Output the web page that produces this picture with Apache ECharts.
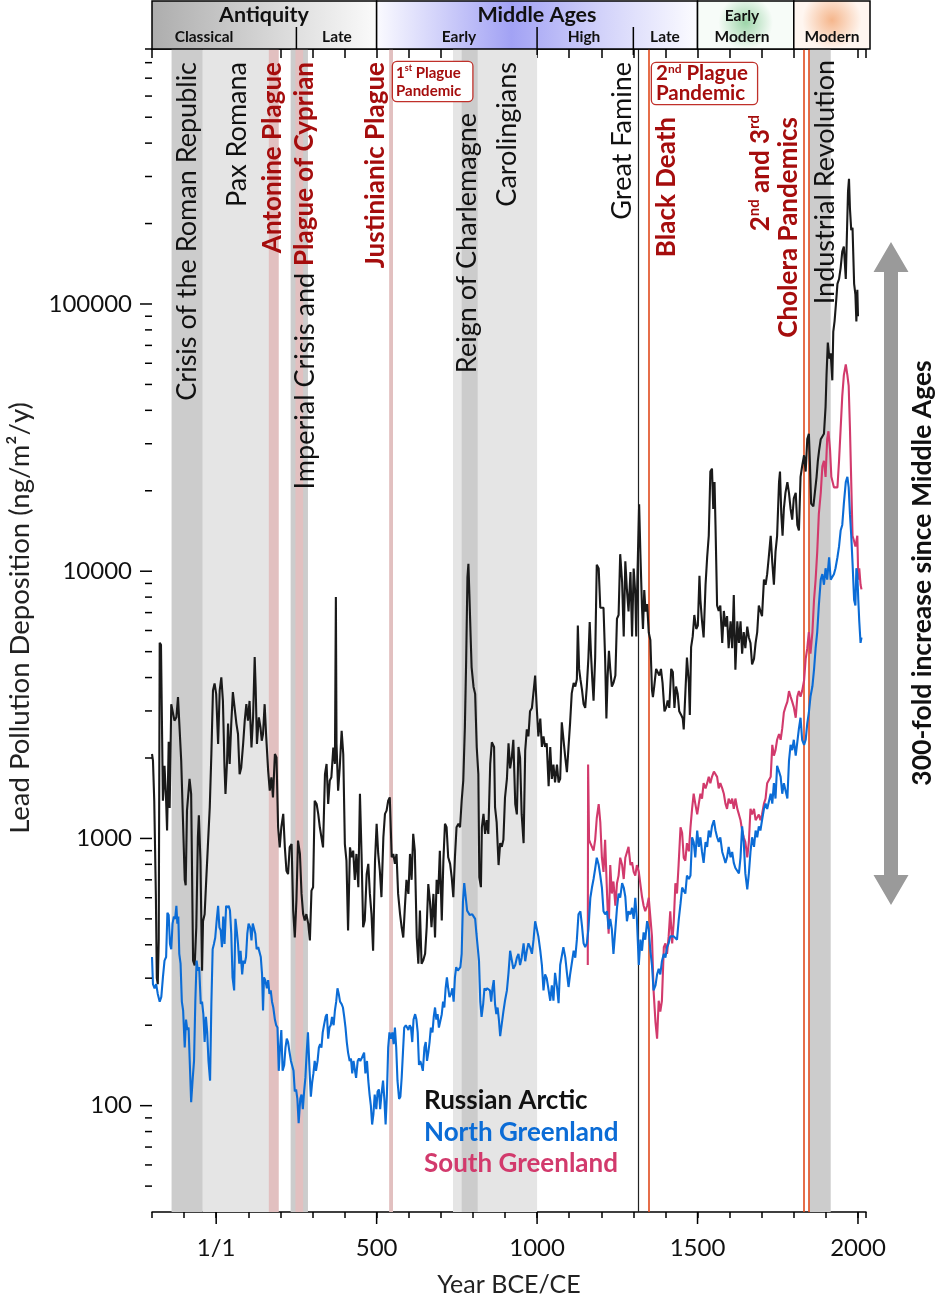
<!DOCTYPE html>
<html><head><meta charset="utf-8">
<script src="https://cdn.jsdelivr.net/npm/echarts@6/dist/echarts.min.js"></script>
<style>html,body{margin:0;padding:0;background:#fff}#c{width:938px;height:1303px}</style>
</head><body><div id="c"></div>
<script>
// ---------------- DATA ----------------
const russianArctic = [[-200,2070],[-197,1956],[-193,1384],[-188,620],[-185,300],[-182,285],[-179,420],[-176,5400],[-172,5300],[-166,1384],[-161,1870],[-156,1384],[-153,1070],[-148,2300],[-145,1300],[-140,3180],[-135,3230],[-130,2760],[-124,2840],[-119,3380],[-114,3430],[-109,1956],[-104,1930],[-98,700],[-95,668],[-91,1271],[-83,1670],[-78,1468],[-72,349],[-67,335],[-62,465],[-57,1010],[-54,1220],[-49,826],[-44,320],[-41,490],[-36,520],[-31,700],[-26,930],[-20,1310],[-15,2070],[-10,3580],[-5,3800],[0,3475],[6,2258],[11,3580],[16,4010],[21,3270],[26,1840],[29,1468],[34,1956],[37,2690],[42,1900],[47,2690],[52,3530],[58,3475],[63,2690],[68,2460],[73,1740],[78,1840],[84,2258],[89,2760],[94,3180],[99,2760],[104,3270],[110,2190],[115,2840],[120,4770],[123,3690],[127,2258],[133,2840],[138,2608],[142,2320],[146,2460],[151,3180],[156,2390],[162,1790],[167,1510],[172,1694],[177,1425],[183,2070],[188,2010],[193,1101],[198,926],[203,1101],[209,1236],[214,926],[219,757],[224,735],[229,926],[235,953],[240,537],[245,426],[250,585],[255,982],[261,875],[266,620],[271,521],[276,493],[281,521],[287,479],[292,415],[297,638],[302,657],[307,1384],[313,1345],[318,1236],[323,1101],[328,1101],[333,926],[339,1740],[344,1900],[349,1345],[354,1645],[359,1694],[365,2190],[370,1900],[373,8000],[375,2258],[380,1510],[385,1840],[391,2530],[396,2070],[401,953],[406,826],[411,452],[417,926],[422,850],[427,900],[432,700],[437,875],[443,657],[448,1468],[453,875],[458,465],[463,493],[469,735],[474,803],[479,620],[484,521],[489,380],[495,826],[500,1135],[505,875],[510,757],[515,603],[521,1010],[526,1236],[531,1271],[536,1384],[541,1425],[547,850],[552,875],[557,803],[562,875],[567,620],[573,521],[578,465],[583,426],[588,552],[593,700],[599,620],[604,875],[609,700],[614,1040],[619,900],[625,426],[630,340],[635,537],[640,340],[645,349],[651,370],[656,465],[661,675],[666,585],[671,465],[677,620],[682,426],[687,700],[692,620],[697,900],[703,493],[708,826],[713,1135],[718,1101],[723,850],[729,803],[734,715],[739,603],[744,850],[749,1101],[755,1135],[760,1101],[765,1384],[770,1645],[775,2608],[779,4630],[783,9490],[786,10650],[789,8225],[793,5660],[796,4370],[802,3690],[807,3475],[812,2190],[817,1740],[820,715],[825,657],[828,1101],[833,1236],[838,1040],[843,1170],[848,1040],[854,1900],[859,2290],[866,2200],[869,1310],[874,1152],[880,795],[885,960],[890,930],[895,988],[900,1420],[906,1670],[911,2270],[916,1828],[921,2000],[926,2340],[932,1344],[937,1230],[942,2200],[947,2000],[952,1230],[958,960],[963,2132],[968,2560],[973,2410],[978,2990],[984,3080],[989,3080],[994,4070],[999,3080],[1004,2410],[1010,2810],[1015,2200],[1020,2410],[1025,2200],[1030,2270],[1036,1567],[1041,2200],[1046,1670],[1051,1890],[1056,1620],[1062,1890],[1067,1620],[1072,1670],[1077,2720],[1082,2720],[1088,2000],[1093,1770],[1098,2200],[1103,2720],[1108,3490],[1114,3820],[1119,3700],[1124,3945],[1127,6260],[1131,4310],[1135,3945],[1140,3600],[1145,3180],[1150,3080],[1155,3700],[1160,4750],[1164,6460],[1168,4900],[1172,3945],[1176,3280],[1181,4750],[1186,10570],[1192,10240],[1197,7300],[1202,7300],[1207,7300],[1212,4750],[1216,2810],[1220,4070],[1224,5040],[1228,4310],[1233,3700],[1238,3820],[1244,4070],[1249,6650],[1254,6860],[1259,11580],[1265,9100],[1270,5700],[1275,10900],[1280,8510],[1285,7070],[1291,9930],[1296,5700],[1301,10240],[1306,8250],[1309,5700],[1313,9930],[1318,17800],[1322,11580],[1327,7300],[1330,6080],[1334,8510],[1338,7070],[1343,7530],[1348,5900],[1353,5530],[1358,3600],[1361,3380],[1365,3700],[1371,4310],[1376,4310],[1381,4070],[1386,4310],[1391,3820],[1397,2990],[1402,3080],[1407,3280],[1412,3080],[1418,4310],[1423,4200],[1428,3080],[1433,3700],[1438,3490],[1443,2990],[1449,2900],[1454,2810],[1457,2560],[1462,3490],[1467,4750],[1473,3820],[1476,2900],[1480,5200],[1485,5700],[1490,6860],[1496,6080],[1501,6260],[1506,9620],[1509,7800],[1514,6500],[1519,5650],[1525,8900],[1530,11280],[1535,13570],[1540,23600],[1545,24200],[1549,17100],[1553,21550],[1556,14900],[1561,7440],[1566,7100],[1571,7440],[1577,5390],[1582,7100],[1587,6200],[1592,6790],[1597,5150],[1603,6500],[1608,5150],[1613,8150],[1618,4280],[1624,6500],[1629,5390],[1634,6500],[1639,4910],[1644,5920],[1649,5150],[1655,6200],[1660,5650],[1665,5390],[1670,4480],[1676,4700],[1681,5390],[1686,5920],[1691,7440],[1696,7100],[1701,6790],[1707,9300],[1712,8900],[1717,9750],[1722,11280],[1728,13570],[1733,10770],[1738,8900],[1743,11810],[1748,13570],[1754,21550],[1757,23600],[1761,16350],[1765,13570],[1769,17100],[1774,19650],[1780,21550],[1785,19650],[1790,17100],[1795,15600],[1800,18750],[1806,19650],[1811,14900],[1816,14200],[1821,22550],[1826,24700],[1832,27150],[1837,23600],[1842,31200],[1847,32700],[1850,25900],[1854,17900],[1861,17500],[1867,17500],[1871,22550],[1875,25900],[1879,28400],[1884,31200],[1889,31200],[1894,32700],[1899,41200],[1902,54200],[1906,71700],[1911,62400],[1915,65400],[1920,51800],[1923,78600],[1927,86100],[1931,98900],[1936,119000],[1941,124000],[1946,136600],[1951,157000],[1956,164000],[1962,124000],[1965,172100],[1969,264000],[1972,294000],[1975,227000],[1979,189000],[1983,193000],[1988,119000],[1992,108400],[1995,86100],[1998,113000],[2000,90000]];

const northGreenland = [[-200,360],[-197,285],[-192,275],[-187,285],[-182,262],[-176,245],[-171,255],[-166,302],[-161,349],[-156,360],[-152,527],[-148,517],[-144,403],[-140,385],[-136,480],[-132,510],[-128,500],[-124,560],[-121,480],[-118,510],[-115,370],[-111,340],[-107,245],[-103,227],[-98,165],[-94,210],[-90,192],[-86,196],[-82,142],[-78,103],[-73,127],[-69,147],[-65,245],[-61,349],[-57,320],[-53,330],[-48,240],[-44,245],[-40,220],[-36,173],[-32,215],[-28,188],[-24,147],[-19,124],[-15,240],[-11,385],[-7,403],[-3,425],[2,500],[6,560],[10,465],[14,453],[18,392],[22,510],[26,403],[31,560],[35,550],[39,560],[43,537],[47,440],[51,302],[56,270],[60,500],[64,453],[68,403],[72,340],[76,380],[81,310],[85,349],[89,340],[93,360],[97,440],[101,480],[106,465],[110,415],[114,480],[118,480],[122,440],[126,385],[131,392],[135,392],[139,360],[143,310],[146,227],[149,302],[153,295],[158,275],[162,295],[166,262],[170,270],[174,245],[178,233],[183,210],[187,200],[191,196],[195,135],[199,165],[203,192],[207,135],[212,142],[216,165],[220,178],[224,173],[228,160],[233,147],[237,147],[241,135],[245,113],[249,115],[253,106],[257,86],[262,106],[266,110],[270,97],[274,113],[278,127],[282,158],[286,188],[291,135],[295,108],[299,122],[303,132],[307,147],[311,135],[316,147],[320,165],[324,170],[328,165],[332,188],[336,200],[341,215],[345,220],[349,178],[353,196],[357,200],[361,215],[366,200],[370,227],[374,245],[378,275],[382,262],[386,245],[391,240],[395,233],[399,215],[403,196],[407,173],[411,158],[416,147],[420,150],[424,132],[428,147],[432,145],[436,127],[441,147],[445,150],[449,147],[453,150],[457,150],[461,158],[465,132],[470,147],[474,124],[478,110],[482,100],[486,85],[490,93],[494,110],[499,97],[503,113],[507,115],[511,97],[515,110],[520,124],[524,106],[528,85],[532,110],[536,165],[540,188],[545,178],[549,188],[553,170],[557,196],[561,165],[565,124],[570,106],[574,108],[578,127],[582,158],[586,196],[591,200],[595,196],[599,192],[603,200],[607,196],[611,173],[615,210],[620,220],[624,210],[628,188],[632,142],[636,147],[640,142],[644,135],[649,165],[653,173],[657,147],[661,158],[665,173],[669,196],[674,188],[678,215],[682,233],[686,210],[690,220],[694,196],[699,196],[703,220],[707,245],[711,233],[715,275],[719,302],[723,275],[727,255],[732,262],[736,275],[740,245],[744,302],[748,330],[753,320],[757,320],[761,330],[765,370],[769,580],[773,680],[778,680],[782,537],[786,527],[790,517],[794,517],[798,520],[802,517],[807,500],[811,440],[815,392],[819,349],[823,245],[827,215],[832,240],[836,275],[840,270],[844,275],[848,275],[853,270],[857,245],[861,275],[865,295],[869,240],[873,220],[877,233],[881,210],[885,182],[890,182],[895,225],[900,247],[906,270],[911,314],[916,380],[921,380],[926,325],[932,336],[937,358],[942,370],[947,336],[952,358],[958,405],[963,347],[968,380],[973,405],[978,392],[984,370],[989,418],[994,490],[999,490],[1004,430],[1010,380],[1015,336],[1020,270],[1025,310],[1030,300],[1036,270],[1041,247],[1046,282],[1051,247],[1056,314],[1062,278],[1067,242],[1072,336],[1077,336],[1082,392],[1088,358],[1093,314],[1098,278],[1103,310],[1108,314],[1114,380],[1119,358],[1124,418],[1129,520],[1135,534],[1140,470],[1145,405],[1150,392],[1155,405],[1160,458],[1166,600],[1171,655],[1176,705],[1181,770],[1186,847],[1192,795],[1197,726],[1202,655],[1207,534],[1212,520],[1218,534],[1223,458],[1228,500],[1233,458],[1238,370],[1244,458],[1249,550],[1254,622],[1259,600],[1265,680],[1270,655],[1275,605],[1280,490],[1285,534],[1291,520],[1296,550],[1301,500],[1306,600],[1311,500],[1317,336],[1322,418],[1327,380],[1332,445],[1337,418],[1343,490],[1348,458],[1353,380],[1358,336],[1363,270],[1369,282],[1374,310],[1379,325],[1384,310],[1389,347],[1395,370],[1400,358],[1405,392],[1410,405],[1415,430],[1421,430],[1426,430],[1431,430],[1436,418],[1441,490],[1447,570],[1452,655],[1457,655],[1462,622],[1467,726],[1473,705],[1478,726],[1483,1010],[1488,970],[1493,850],[1499,1071],[1504,930],[1509,1010],[1514,890],[1519,810],[1525,970],[1530,930],[1535,1071],[1540,1010],[1545,1110],[1551,1170],[1556,1071],[1561,1010],[1566,970],[1571,1010],[1577,890],[1582,850],[1587,810],[1592,850],[1597,930],[1603,850],[1608,890],[1613,810],[1618,775],[1624,775],[1629,740],[1634,850],[1639,1110],[1644,970],[1649,740],[1655,645],[1660,740],[1665,890],[1670,1010],[1676,930],[1681,1071],[1686,1010],[1691,1110],[1696,1071],[1701,1170],[1707,1290],[1712,1350],[1717,1290],[1722,1290],[1728,1470],[1733,1350],[1738,1610],[1743,1410],[1748,1870],[1754,1780],[1759,1700],[1764,1470],[1769,1610],[1774,1610],[1780,1410],[1785,1950],[1790,2240],[1795,2140],[1800,2340],[1806,2040],[1811,2040],[1816,2580],[1821,2830],[1826,2340],[1832,2240],[1837,2340],[1842,2695],[1847,2960],[1852,3395],[1858,3710],[1863,4280],[1868,5150],[1873,5920],[1878,7440],[1884,9300],[1889,9750],[1894,8900],[1899,10260],[1904,9300],[1910,11280],[1915,9300],[1920,9300],[1925,9750],[1930,10260],[1936,11280],[1941,12380],[1946,14200],[1951,14900],[1956,17900],[1962,21550],[1967,22550],[1971,20600],[1975,16350],[1979,13570],[1983,10770],[1988,7800],[1992,7440],[1995,10260],[1998,9750],[2001,7800],[2004,6500],[2008,5390],[2011,5650]];

const southGreenland = [[1158,336],[1159,1890],[1162,988],[1166,960],[1171,960],[1176,900],[1181,988],[1186,1190],[1192,1344],[1197,1152],[1202,847],[1207,750],[1212,988],[1218,622],[1223,440],[1228,795],[1233,622],[1238,690],[1244,560],[1249,680],[1254,726],[1259,847],[1265,795],[1270,705],[1275,847],[1280,847],[1285,930],[1291,795],[1296,815],[1301,750],[1306,726],[1311,795],[1317,750],[1322,750],[1327,605],[1332,560],[1337,534],[1343,560],[1348,600],[1353,600],[1358,430],[1363,270],[1369,205],[1374,178],[1379,247],[1384,225],[1389,247],[1395,392],[1400,405],[1405,370],[1410,430],[1415,534],[1421,405],[1426,490],[1431,680],[1436,622],[1441,795],[1447,1100],[1452,1050],[1457,847],[1462,825],[1467,960],[1473,895],[1478,1100],[1483,1290],[1488,1470],[1493,1350],[1499,1230],[1504,1350],[1509,1470],[1514,1410],[1519,1610],[1525,1540],[1530,1610],[1535,1700],[1540,1610],[1545,1700],[1551,1780],[1556,1780],[1561,1700],[1566,1540],[1571,1610],[1577,1540],[1582,1470],[1587,1350],[1592,1290],[1597,1410],[1603,1350],[1608,1410],[1613,1290],[1618,1410],[1624,1290],[1629,1230],[1634,1170],[1639,1071],[1644,1010],[1649,970],[1655,850],[1660,970],[1665,1290],[1670,1230],[1676,1290],[1681,1170],[1686,1170],[1691,1230],[1696,1170],[1701,1230],[1707,1350],[1712,1410],[1717,1610],[1722,1610],[1728,1700],[1733,2240],[1738,2040],[1743,2140],[1748,2340],[1754,2460],[1759,2340],[1764,2580],[1769,2960],[1774,3100],[1780,3250],[1785,3560],[1790,3395],[1795,3250],[1800,3100],[1806,2830],[1811,3395],[1816,3560],[1821,3395],[1826,3560],[1832,3900],[1837,4700],[1842,5150],[1847,5920],[1852,4910],[1858,5920],[1863,7800],[1868,9300],[1873,11810],[1878,16350],[1884,19650],[1889,24700],[1894,25900],[1899,22550],[1904,31200],[1908,33400],[1913,28400],[1917,22550],[1921,21550],[1925,20600],[1930,20600],[1936,20600],[1941,25900],[1946,34200],[1951,45200],[1956,54200],[1962,59400],[1967,54200],[1971,49400],[1975,34200],[1979,21550],[1983,13570],[1988,12950],[1992,12380],[1995,12950],[1998,13570],[2001,9300],[2004,10260],[2008,8900],[2011,8550]];

const xLabelValues = [0, 500, 1000, 1500, 2000];
const yLabelValues = [100, 1000, 10000, 100000];
const yMinorTicks = [50,60,70,80,90,200,300,400,500,600,700,800,900,2000,3000,4000,5000,6000,7000,8000,9000,20000,30000,40000,50000,60000,70000,80000,90000,200000,300000,400000,500000,600000,700000,800000,900000];
const lightBands = [[-42, 180], [738, 1000]];
const darkBands = [[-139, -42], [232, 286], [765, 815], [1849, 1915]];
const plagueBands = [[164, 195], [247, 271], [539, 551]];
const famineLines = [1315];
const plagueLines = [1347, 1830, 1846];
const mainPeriods = [['Antiquity', -200, 500], ['Middle Ages', 500, 1500], ['Early Modern', 1500, 1800], ['Modern', 1800, 2025]];
const subPeriodBreaks = [250, 1000, 1300];

// ---------------- CHART ----------------
const FONT = 'Lato, "Noto Sans", sans-serif';
const RED = '#a50d0d';
const chart = echarts.init(document.getElementById('c'), null, {renderer: 'canvas'});
const AX = {color: '#000', width: 1.5};
const XMIN = -200, XMAX = 2025, YMIN = 40, YMAX = 900000;
const bandSeries = (bands, color, z) => ({
  type: 'line', data: [], z: z, silent: true,
  markArea: {silent: true, itemStyle: {color: color}, label: {show: false},
    data: bands.map(b => [{xAxis: b[0]}, {xAxis: b[1]}])}
});
const lineMarks = (years, color, width, z) => ({
  type: 'line', data: [], z: z, silent: true,
  markLine: {silent: true, symbol: 'none', label: {show: false}, animation: false,
    lineStyle: {color: color, width: width, type: 'solid'},
    data: years.map(y => ({xAxis: y}))}
});
// tick marks drawn through the axis scales
const tickSeries = (points, dx, dy) => ({
  type: 'custom', data: points, clip: false, silent: true, z: 20,
  renderItem: (params, api) => {
    const p = api.coord([api.value(0), api.value(1)]);
    return {type: 'line', shape: {x1: p[0], y1: p[1], x2: p[0] + dx, y2: p[1] + dy},
      style: {stroke: '#000', lineWidth: 1.5}};
  }
});

chart.setOption({
  animation: false,
  grid: {left: 152, right: 72, top: 49, bottom: 91},
  xAxis: [
    {type: 'value', position: 'bottom', min: XMIN, max: XMAX, interval: 100,
      axisLine: {lineStyle: AX}, axisTick: {length: 6, lineStyle: AX},
      axisLabel: {customValues: xLabelValues, formatter: v => (v === 0 ? '1/1' : String(v)),
        fontSize: 24, color: '#111', fontFamily: FONT, margin: 24},
      splitLine: {show: false},
      name: 'Year BCE/CE', nameLocation: 'middle', nameGap: 60,
      nameTextStyle: {fontSize: 25, color: '#222', fontFamily: FONT}},
    {type: 'value', position: 'top', min: XMIN, max: XMAX, interval: 100,
      axisLine: {lineStyle: AX}, axisTick: {inside: true, length: 9, lineStyle: AX},
      axisLabel: {show: false}, splitLine: {show: false}}
  ],
  yAxis: [
    {type: 'log', logBase: 10, position: 'left', min: YMIN, max: YMAX,
      axisLine: {show: true, lineStyle: AX}, axisTick: {show: false},
      axisLabel: {customValues: yLabelValues, formatter: v => String(v),
        fontSize: 24, color: '#111', fontFamily: FONT, margin: 20},
      splitLine: {show: false}}
  ],
  series: [
    bandSeries(lightBands, '#e5e5e5', 1),
    bandSeries(darkBands, '#cccccc', 2),
    bandSeries(plagueBands, '#e2c0c0', 3),
    lineMarks(famineLines, '#222222', 1.2, 4),
    lineMarks(plagueLines, '#e04a1c', 1.6, 4),
    {type: 'line', name: 'Russian Arctic', data: russianArctic, symbol: 'none', z: 10,
      lineStyle: {color: '#1a1a1a', width: 2.1}},
    {type: 'line', name: 'North Greenland', data: northGreenland, symbol: 'none', z: 11,
      lineStyle: {color: '#0b6cd6', width: 2.1}},
    {type: 'line', name: 'South Greenland', data: southGreenland, symbol: 'none', z: 10,
      lineStyle: {color: '#d23a6c', width: 2.1}},
    tickSeries(yMinorTicks.map(v => [XMIN, v]), -7, 0),
    tickSeries(yLabelValues.map(v => [XMIN, v]), -12, 0),
    tickSeries(xLabelValues.map(v => [v, YMIN]), 0, 12)
  ]
});

// ---------------- ANNOTATIONS ----------------
const px = yr => chart.convertToPixel({xAxisIndex: 0}, yr);
const g = [];
const STRIP_TOP = 1, STRIP_MID = 27, STRIP_BOT = 49;
const fills = [
  {type: 'linear', x: 0, y: 0, x2: 1, y2: 0, colorStops: [{offset: 0, color: '#adadad'}, {offset: 1, color: '#fbfbfb'}]},
  {type: 'linear', x: 0, y: 0, x2: 1, y2: 0, colorStops: [{offset: 0, color: '#fbfbff'}, {offset: 0.42, color: '#a2a2f4'}, {offset: 0.7, color: '#d2d2fa'}, {offset: 1, color: '#fcfcff'}]},
  {type: 'radial', x: 0.5, y: 0.45, r: 0.55, colorStops: [{offset: 0, color: '#9dd5a9'}, {offset: 1, color: '#f7fcf8'}]},
  {type: 'radial', x: 0.5, y: 0.4, r: 0.6, colorStops: [{offset: 0, color: '#f5b68c'}, {offset: 1, color: '#fff6f0'}]}
];
mainPeriods.forEach((p, i) => {
  const x1 = px(p[1]);
  const x2 = px(p[2]) + (i === mainPeriods.length - 1 ? 4 : 0);
  g.push({type: 'rect', shape: {x: x1, y: STRIP_TOP, width: x2 - x1, height: STRIP_BOT - STRIP_TOP},
    style: {fill: fills[i], stroke: '#000', lineWidth: 1.5}, z: 5});
});
subPeriodBreaks.forEach(yr => {
  g.push({type: 'line', shape: {x1: px(yr), y1: STRIP_MID, x2: px(yr), y2: STRIP_BOT + (yr === 250 ? 0 : 6)},
    style: {stroke: '#000', lineWidth: 1.5}, z: 6});
});
const stripText = (x, y, text, size) => ({type: 'text', x: x, y: y, z: 7,
  style: {text: text, align: 'center', verticalAlign: 'middle', fontSize: size, fontWeight: 'bold', fill: '#111', fontFamily: FONT}});
g.push(stripText(264, 15, 'Antiquity', 21.5));
g.push(stripText(537, 15, 'Middle Ages', 21.5));
g.push(stripText(742, 16, 'Early', 15.5));
g.push(stripText(742, 37, 'Modern', 15.5));
g.push(stripText(832, 37, 'Modern', 15.5));
g.push(stripText(204, 37, 'Classical', 15.5));
g.push(stripText(337, 37, 'Late', 15.5));
g.push(stripText(459, 37, 'Early', 15.5));
g.push(stripText(584, 37, 'High', 15.5));
g.push(stripText(665, 37, 'Late', 15.5));

// vertical event labels (reading bottom-to-top, top end anchored)
const VB = 27, VR = 26;
const vlabel = (x, yTop, text, color, weight, size, rich) => ({type: 'text', x: x, y: yTop, rotation: Math.PI / 2, z: 8,
  style: {text: text, align: 'right', verticalAlign: 'middle', fontSize: size, fontWeight: weight, fill: color, fontFamily: FONT, rich: rich}});
g.push(vlabel(187, 62, 'Crisis of the Roman Republic', '#111', 'normal', VB));
g.push(vlabel(237, 62, 'Pax Romana', '#111', 'normal', VB));
g.push(vlabel(273, 62, 'Antonine Plague', RED, 'bold', VR));
g.push(vlabel(305, 62, '{a|Imperial Crisis and }{b|Plague of Cyprian}', '#111', 'normal', VB, {
  a: {fontSize: VB, fill: '#111', fontFamily: FONT},
  b: {fontSize: VR, fill: RED, fontWeight: 'bold', fontFamily: FONT}}));
g.push(vlabel(376, 62, 'Justinianic Plague', RED, 'bold', VR));
g.push(vlabel(467, 113, 'Reign of Charlemagne', '#111', 'normal', VB));
g.push(vlabel(507, 62, 'Carolingians', '#111', 'normal', VB));
g.push(vlabel(622, 62, 'Great Famine', '#111', 'normal', VB));
g.push(vlabel(667, 117, 'Black Death', RED, 'bold', VR));
g.push(vlabel(761, 115, '{n|2}{s|nd}{n| and 3}{s|rd}', RED, 'bold', VR, {
  n: {fontSize: VR, fontWeight: 'bold', fill: RED, fontFamily: FONT, lineHeight: 28},
  s: {fontSize: 15, fontWeight: 'bold', fill: RED, fontFamily: FONT, verticalAlign: 'top', lineHeight: 28}}));
g.push(vlabel(789, 117, 'Cholera Pandemics', RED, 'bold', VR));
g.push(vlabel(825, 60, 'Industrial Revolution', '#111', 'normal', VB));

// boxed plague pandemic labels
const box = (x, y, size, sup, line1, lh, pad) => ({type: 'text', x: x, y: y, z: 9,
  style: {text: '{n|' + line1[0] + '}{s|' + sup + '}{n|' + line1[1] + '}\n{n|Pandemic}',
    align: 'left', verticalAlign: 'top', backgroundColor: '#fff', borderColor: '#c0302a', borderWidth: 1.3,
    borderRadius: 4, padding: pad,
    rich: {n: {fontSize: size, fontWeight: 'bold', fill: RED, fontFamily: FONT, lineHeight: lh},
      s: {fontSize: Math.round(size * 0.6), fontWeight: 'bold', fill: RED, fontFamily: FONT, verticalAlign: 'top', lineHeight: lh}}}});
g.push(box(393, 62, 15, 'st', ['1', ' Plague'], 18, [2, 11, 1, 3]));
g.push(box(652, 63, 20.5, 'nd', ['2', ' Plague'], 20, [0, 9, 1, 4]));

// axis title
g.push({type: 'text', x: 20, y: 618, rotation: Math.PI / 2, z: 8,
  style: {text: 'Lead Pollution Deposition (ng/m\u00b2/y)', align: 'center', verticalAlign: 'middle',
    fontSize: 27.5, fill: '#222', fontFamily: FONT}});

// legend
const leg = (y, text, color) => ({type: 'text', x: 424, y: y, z: 9,
  style: {text: text, align: 'left', verticalAlign: 'middle', fontSize: 26, fontWeight: 'bold', fill: color, fontFamily: FONT}});
g.push(leg(1101, 'Russian Arctic', '#111'));
g.push(leg(1133, 'North Greenland', '#0b6cd6'));
g.push(leg(1164, 'South Greenland', '#d23a6c'));

// double-headed arrow
const ax = 891, aTop = 242, aBot = 905, hw = 17.5, sw = 7, hh = 30;
g.push({type: 'polygon', z: 8, shape: {points: [
  [ax, aTop], [ax + hw, aTop + hh], [ax + sw, aTop + hh], [ax + sw, aBot - hh], [ax + hw, aBot - hh],
  [ax, aBot], [ax - hw, aBot - hh], [ax - sw, aBot - hh], [ax - sw, aTop + hh], [ax - hw, aTop + hh]]},
  style: {fill: '#9a9a9a'}});
g.push({type: 'text', x: 922, y: 573, rotation: Math.PI / 2, z: 8,
  style: {text: '300-fold increase since Middle Ages', align: 'center', verticalAlign: 'middle',
    fontSize: 26.5, fontWeight: 'bold', fill: '#111', fontFamily: FONT}});

chart.setOption({graphic: {elements: g}});
</script></body></html>
